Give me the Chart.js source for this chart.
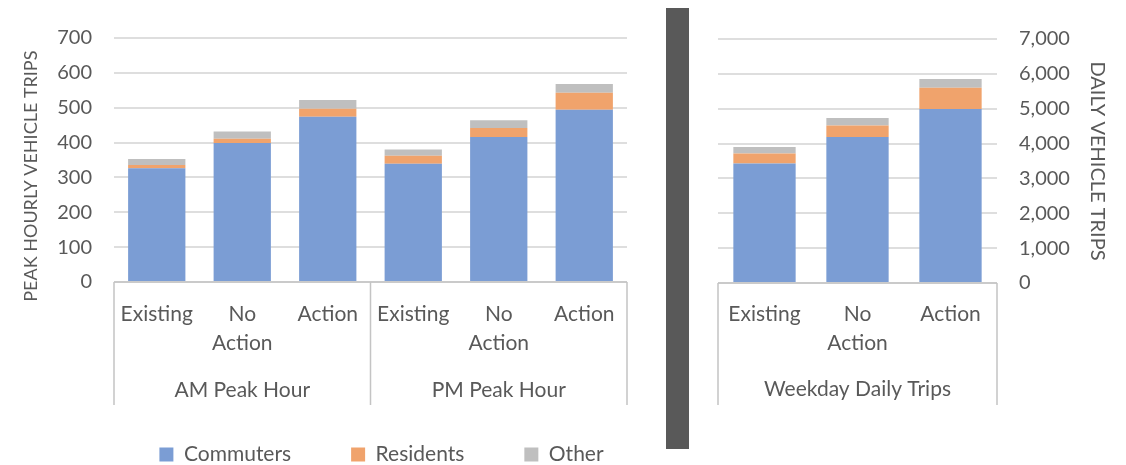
<!DOCTYPE html>
<html>
<head>
<meta charset="utf-8">
<script src="https://cdn.jsdelivr.net/npm/chart.js@4.4.1/dist/chart.umd.min.js"></script>
<style>
  html, body { margin: 0; padding: 0; overflow: hidden; background: #ffffff; width: 1126px; height: 465px; }
  #c1 { position: absolute; left: 0; top: 0; }
  #c2 { position: absolute; left: 640px; top: 0; }
  #sep { position: absolute; left: 666px; top: 8px; width: 23px; height: 441px; background: #595959; }
</style>
</head>
<body>
<canvas id="c1" width="763" height="475"></canvas>
<div id="sep"></div>
<canvas id="c2" width="486" height="465"></canvas>
<script>
// ---- data ----
const scenarioLabels = ['Existing', ['No', 'Action'], 'Action'];
const hourlyGroups = ['AM Peak Hour', 'PM Peak Hour'];
const dailyGroups = ['Weekday Daily Trips'];
const seriesNames = ['Commuters', 'Residents', 'Other'];

const commutersHourly = [326, 399, 474, 339, 416, 494];
const residentsHourly = [10, 12, 23, 23, 26, 49];
const otherHourly     = [17, 21, 25, 18, 22, 25];

const commutersDaily = [3430, 4190, 4990];
const residentsDaily = [285, 325, 615];
const otherDaily     = [185, 220, 250];

const hourlyTicks = [0, 100, 200, 300, 400, 500, 600, 700];
const dailyTicks  = [0, 1000, 2000, 3000, 4000, 5000, 6000, 7000];

// ---- styles ----
const TXT = '#595959';
const FONT = 'Lato, "Open Sans", sans-serif';
const colors = ['#7b9dd4', '#f0a36c', '#bfbfbf'];
const GRID = '#dedede';
const BOX = '#c4c4c4';

function buildCats(groups) {
  const cats = [], grp = [];
  groups.forEach(g => {
    scenarioLabels.forEach((s, i) => { cats.push(s); grp.push(i === 1 ? g : ''); });
  });
  return { cats, grp };
}

const boxPlugin = {
  id: 'boxes',
  beforeDraw(chart) {
    // let the category labels overflow their axis box (no clipping)
    ['x', 'x2'].forEach(k => { const s = chart.scales[k]; if (s) s._computeLabelArea = () => undefined; });
  },
  afterDraw(chart, args, opts) {
    const ctx = chart.ctx, a = chart.chartArea, xs = chart.scales.x;
    ctx.save();
    ctx.strokeStyle = BOX;
    ctx.lineWidth = 1.5;
    ctx.beginPath();
    ctx.moveTo(a.left, a.bottom); ctx.lineTo(a.right, a.bottom);
    const xsList = [a.left, a.right];
    (opts.dividers || []).forEach(i => {
      xsList.push((xs.getPixelForValue(i) + xs.getPixelForValue(i + 1)) / 2);
    });
    xsList.forEach(x => { ctx.moveTo(x, a.bottom); ctx.lineTo(x, opts.bottom); });
    ctx.stroke();
    ctx.restore();
  }
};

function makeDatasets(arrs) {
  return arrs.map((d, i) => ({
    label: seriesNames[i],
    data: d,
    backgroundColor: colors[i],
    borderWidth: 0,
    barPercentage: 0.67,
    categoryPercentage: 1.0
  }));
}

function xScales(cats, grp, xPad, x2Pad, x2H) {
  return {
    x: {
      type: 'category', labels: cats, stacked: true, offset: true, weight: 0,
      grid: { display: false, drawTicks: false }, border: { display: false },
      ticks: { color: TXT, font: { family: FONT, size: 21, lineHeight: 1.38 }, padding: xPad, autoSkip: false, maxRotation: 0, minRotation: 0 },
      afterFit: s => { s.height = 69; }
    },
    x2: {
      type: 'category', labels: grp, offset: true, position: 'bottom', weight: 1,
      grid: { display: false, drawTicks: false }, border: { display: false },
      ticks: { color: TXT, font: { family: FONT, size: 21, lineHeight: 1.2 }, padding: x2Pad, autoSkip: false, maxRotation: 0, minRotation: 0 },
      afterFit: s => { s.height = x2H; }
    }
  };
}

// ---- left chart ----
const L = buildCats(hourlyGroups);
new Chart(document.getElementById('c1'), {
  type: 'bar',
  data: { labels: L.cats, datasets: makeDatasets([commutersHourly, residentsHourly, otherHourly]) },
  plugins: [boxPlugin],
  options: {
    responsive: false, animation: false, events: [],
    layout: { padding: { top: 38, left: 0, right: 0, bottom: 0 } },
    scales: Object.assign(xScales(L.cats, L.grp, 18, 27, 33), {
      y: {
        position: 'left', stacked: true, min: 0, max: 700,
        afterBuildTicks: s => { s.ticks = hourlyTicks.map(v => ({ value: v })); },
        grid: { color: GRID, lineWidth: 2, drawTicks: false }, border: { display: false },
        ticks: { color: TXT, font: { family: FONT, size: 20 }, padding: 22 },
        title: { display: true, text: 'PEAK HOURLY VEHICLE TRIPS       ', color: TXT, font: { family: FONT, size: 18, lineHeight: 1.2 }, padding: { top: 20, bottom: 0 } },
        afterFit: s => { s.width = 114; }
      },
      yR: {
        position: 'right', type: 'linear', display: true,
        grid: { display: false, drawTicks: false }, border: { display: false },
        ticks: { display: false },
        afterFit: s => { s.width = 136; }
      }
    }),
    plugins: {
      boxes: { dividers: [2], bottom: 405 },
      legend: {
        display: true, position: 'bottom',
        labels: { color: TXT, font: { family: FONT, size: 21 }, boxWidth: 14, boxHeight: 14, padding: 60 }
      },
      tooltip: { enabled: false }
    }
  }
});

// ---- right chart ----
const R = buildCats(dailyGroups);
new Chart(document.getElementById('c2'), {
  type: 'bar',
  data: { labels: R.cats, datasets: makeDatasets([commutersDaily, residentsDaily, otherDaily]) },
  plugins: [boxPlugin],
  options: {
    responsive: false, animation: false, events: [],
    layout: { padding: { top: 39, left: 78, right: 0, bottom: 89 } },
    scales: Object.assign(xScales(R.cats, R.grp, 17, 25, 24), {
      y: {
        position: 'right', stacked: true, min: 0, max: 7000,
        afterBuildTicks: s => { s.ticks = dailyTicks.map(v => ({ value: v })); },
        grid: { color: GRID, lineWidth: 2, drawTicks: false }, border: { display: false },
        ticks: { color: TXT, font: { family: FONT, size: 20 }, padding: 22, callback: v => Number(v).toLocaleString('en-US') },
        title: { display: true, text: 'DAILY VEHICLE TRIPS', color: TXT, font: { family: FONT, size: 20, lineHeight: 1.2 }, padding: { top: 17, bottom: 0 } },
        afterFit: s => { s.width = 129; }
      }
    }),
    plugins: {
      boxes: { dividers: [], bottom: 405 },
      legend: { display: false },
      tooltip: { enabled: false }
    }
  }
});
</script>
</body>
</html>
